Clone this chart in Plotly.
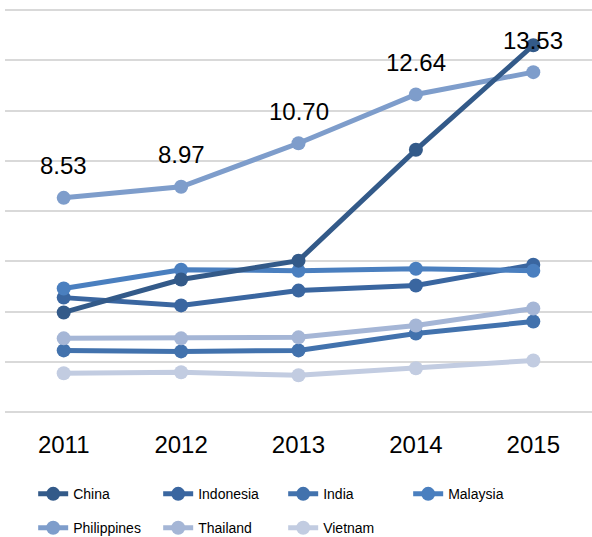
import plotly.graph_objects as go

# Data
years = ["2011", "2012", "2013", "2014", "2015"]
china = [3.97, 5.28, 6.03, 10.44, 14.60]
indonesia = [4.56, 4.25, 4.84, 5.04, 5.87]
india = [2.46, 2.42, 2.46, 3.13, 3.61]
malaysia = [4.92, 5.67, 5.63, 5.71, 5.63]
philippines = [8.53, 8.97, 10.70, 12.64, 13.53]
thailand = [2.94, 2.94, 2.98, 3.45, 4.13]
vietnam = [1.55, 1.59, 1.47, 1.75, 2.06]

series = [
    ("China", china, "#335a89", "legend"),
    ("Indonesia", indonesia, "#3a66a0", "legend"),
    ("India", india, "#4272ad", "legend"),
    ("Malaysia", malaysia, "#4a7fbf", "legend"),
    ("Philippines", philippines, "#7e9dcb", "legend2"),
    ("Thailand", thailand, "#a5b6d6", "legend2"),
    ("Vietnam", vietnam, "#c2cce1", "legend2"),
]

FONT = "Liberation Sans, Arial, sans-serif"
Y_MAX = 16

fig = go.Figure()

# draw lighter series first, China last so it sits on top
draw_order = [1, 2, 3, 4, 5, 6, 0]
for i in draw_order:
    name, vals, color, leg = series[i]
    fig.add_trace(go.Scatter(
        x=years, y=vals, name=name, mode="lines+markers",
        line=dict(color=color, width=5),
        marker=dict(color=color, size=14),
        legend=leg, legendrank=i + 1,
    ))

# value labels for Philippines (category index as x)
for k, v in enumerate(philippines):
    fig.add_annotation(x=k, y=v, xref="x", yref="y", text=f"{v:.2f}", showarrow=False,
                       yshift=32, font=dict(size=24, color="#000000", family=FONT))

# top gridline
fig.add_hline(y=Y_MAX, line=dict(color="#d9d9d9", width=1.5), layer="below")

fig.update_layout(
    width=592, height=537,
    margin=dict(l=5, r=0, t=0, b=124, autoexpand=False),
    plot_bgcolor="white", paper_bgcolor="white",
    font=dict(family=FONT, color="#000000"),
    showlegend=True,
    legend=dict(orientation="h", x=0.048, xanchor="left", y=-0.158, yanchor="top",
                entrywidth=80, font=dict(size=14), bgcolor="rgba(0,0,0,0)"),
    legend2=dict(orientation="h", x=0.048, xanchor="left", y=-0.240, yanchor="top",
                 entrywidth=80, font=dict(size=14), bgcolor="rgba(0,0,0,0)"),
)
fig.update_xaxes(type="category", range=[-0.5, 4.5], showgrid=False, showline=False,
                 zeroline=False, ticks="", tickfont=dict(size=24), ticklabelstandoff=15)
fig.update_yaxes(range=[-0.03, 16.4], tick0=0, dtick=2, showgrid=True, gridcolor="#d9d9d9",
                 gridwidth=1.5, showticklabels=False, zeroline=True, zerolinecolor="#d9d9d9",
                 zerolinewidth=1.5, showline=False)

# drop the browser's default body margin so the figure fills the window
fig.write_html("out.html", config={"displayModeBar": False},
               post_script="document.body.style.margin='0';")
